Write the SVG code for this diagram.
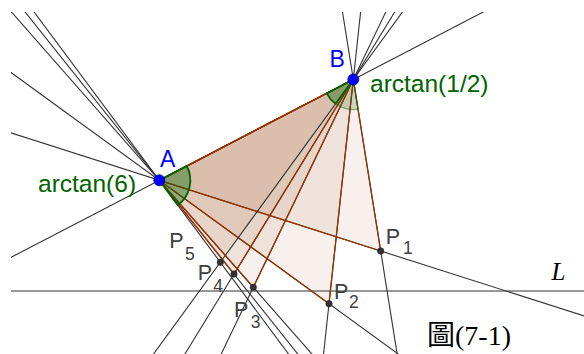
<svg xmlns="http://www.w3.org/2000/svg" width="584" height="354" viewBox="0 0 584 354">
<defs>
<clipPath id="view"><rect x="11" y="12" width="573" height="342"/></clipPath>
</defs>
<style>
.ln{stroke:#333;stroke-width:1.1;fill:none}
.tri{fill:#993300;fill-opacity:0.075;stroke:#993300;stroke-width:1.3;stroke-linejoin:round}
.trif{fill:#993300;fill-opacity:0.075;stroke:none}
.ang{fill:#006400;fill-opacity:0.38;stroke:#006400;stroke-width:1.8}
.ang2{fill:#006400;fill-opacity:0.18;stroke:#006400;stroke-opacity:0.45;stroke-width:1.2}
.pt{fill:#333;stroke:#222;stroke-width:0.6}
.bp{fill:#0000ff;stroke:#00008b;stroke-width:0.8}
.lbl{font-family:"Liberation Sans",Arial,sans-serif}
.blue{fill:#0000ff;font-size:23px}
.green{fill:#006400;font-size:24.5px}
.gray{fill:#404040;font-size:21.5px}
.sub{font-size:17.5px}
</style>
<rect width="584" height="354" fill="#fff"/>
<g id="connectors" clip-path="url(#view)">
<line class="ln" x1="0" y1="291" x2="600" y2="291"/>
<line class="ln" x1="-228.7" y1="381.9" x2="741.3" y2="-122.1"/>
<line class="ln" x1="-504.9" y1="-31.8" x2="823.5" y2="392.4"/>
<line class="ln" x1="-349.8" y1="-189.9" x2="668.4" y2="550.5"/>
<line class="ln" x1="-122.7" y1="-140.7" x2="441.3" y2="501.3"/>
<line class="ln" x1="-64.8" y1="-100.8" x2="383.4" y2="461.4"/>
<line class="ln" x1="325.9" y1="-92" x2="408.1" y2="422.5"/>
<line class="ln" x1="377.6" y1="-144.7" x2="304.7" y2="527.9"/>
<line class="ln" x1="453.3" y1="-128.3" x2="153.3" y2="495.1"/>
<line class="ln" x1="472.6" y1="-115" x2="114.7" y2="468.5"/>
</g>
<g id="triangles">
<polygon id="tri1" class="tri" points="159.3,180.3 353.3,79.5 380.7,251"/>
<polygon id="tri2" class="tri" points="159.3,180.3 353.3,79.5 329,303.7"/>
<polygon id="tri3" class="tri" points="159.3,180.3 353.3,79.5 253.3,287.3"/>
<polygon id="tri4" class="tri" points="159.3,180.3 353.3,79.5 234,274"/>
<polygon id="tri5" class="trif" points="159.3,180.3 353.3,79.5 220.3,262.3"/>
</g>
<g id="connectors-top" clip-path="url(#view)">
<line class="ln" x1="-23.7" y1="-65.7" x2="342.3" y2="426.3"/>
<line class="ln" x1="486.3" y1="-103.3" x2="87.3" y2="445.1"/>
</g>
<g id="angleA">
<path class="ang" d="M159.3,180.3 L186.81,166 A31,31 0 0 1 177.81,205.17 Z"/>
</g>
<g id="angleB">
<path class="ang2" d="M353.3,79.5 L358.03,109.12 A30,30 0 0 1 335.64,103.75 Z"/>
<path class="ang" d="M353.3,79.5 L335.64,103.75 A30,30 0 0 1 326.68,93.34 Z"/>
</g>
<g id="P1"><circle class="pt" cx="380.7" cy="251" r="3.2"/><text class="lbl gray" x="385.7" y="244">P<tspan class="sub" x="403" y="254">1</tspan></text></g>
<g id="P2"><circle class="pt" cx="329" cy="303.7" r="3.2"/><text class="lbl gray" x="334" y="299.3">P<tspan class="sub" x="349" y="308.3">2</tspan></text></g>
<g id="P3"><circle class="pt" cx="253.3" cy="287.3" r="3.2"/><text class="lbl gray" x="234" y="316.7">P<tspan class="sub" x="250.7" y="328.3">3</tspan></text></g>
<g id="P4"><circle class="pt" cx="234" cy="274" r="3.2"/><text class="lbl gray" x="197.7" y="280">P<tspan class="sub" x="213.3" y="291.7">4</tspan></text></g>
<g id="P5"><circle class="pt" cx="220.3" cy="262.3" r="3.2"/><text class="lbl gray" x="169.3" y="248.3">P<tspan class="sub" x="185" y="260">5</tspan></text></g>
<g id="A"><circle class="bp" cx="159.3" cy="180.3" r="5.5"/><text class="lbl blue" x="160" y="167">A</text></g>
<g id="B"><circle class="bp" cx="353.3" cy="79.5" r="5.5"/><text class="lbl blue" x="329.5" y="66.7">B</text></g>
<text class="lbl green" x="38" y="191.5">arctan(6)</text>
<text class="lbl green" x="370" y="91.5">arctan(1/2)</text>
<text x="551.5" y="280" font-family="'Liberation Serif','Times New Roman',serif" font-style="italic" font-size="25" fill="#000">L</text>
<text x="427" y="345" font-family="'Liberation Serif','Noto Sans CJK TC',serif" font-size="28" fill="#000">圖(7-1)</text>
</svg>
